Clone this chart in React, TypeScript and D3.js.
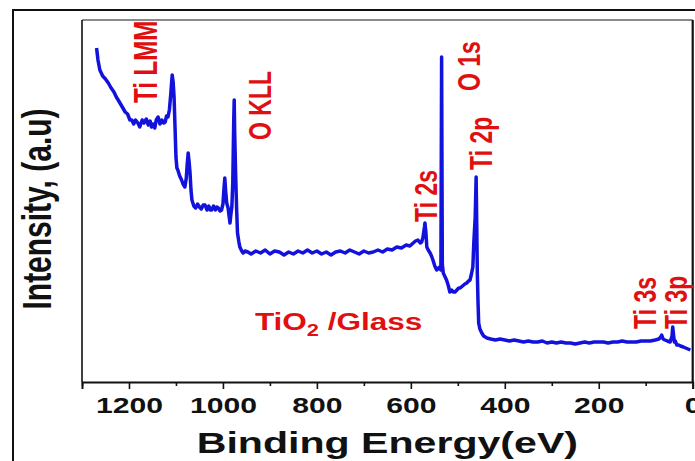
import React, { useEffect, useRef } from "react";
import * as d3 from "d3";

// XPS survey spectrum of TiO2 on glass
const energy = [
  1269, 1266, 1262, 1256, 1250, 1244, 1238, 1232, 1227, 1223, 1218, 1213, 1208, 1203, 1198, 1194,
  1190, 1186, 1181, 1177, 1172, 1168, 1163, 1159, 1155, 1152, 1148, 1145, 1142, 1138, 1134, 1130,
  1126, 1123, 1120, 1117, 1114, 1111, 1108, 1106, 1104, 1102, 1100, 1098, 1096, 1092, 1088, 1085,
  1081, 1078, 1076, 1074, 1072, 1070, 1068, 1066, 1062, 1058, 1054, 1050, 1046, 1042, 1038, 1034,
  1030, 1027, 1024, 1020, 1016, 1013, 1010, 1006, 1003, 1000, 998, 996, 994, 992, 989, 985, 983,
  981, 979, 977, 976, 975, 973, 971, 969, 966, 964, 960, 957, 953, 947, 940, 930, 920, 910, 900,
  890, 880, 870, 860, 850, 840, 830, 820, 810, 800, 790, 780, 770, 760, 750, 740, 730, 720, 710,
  700, 690, 680, 670, 660, 650, 640, 630, 620, 610, 602, 595, 590, 585, 580, 577, 574, 571, 570,
  568, 566, 563, 559, 556, 553, 549, 545, 541, 538, 536, 534.5, 533, 531, 528, 524, 520, 517, 513,
  510, 506, 502, 498, 495, 490, 485, 481, 477, 474, 471, 468, 466, 463, 461, 459.5, 458.5, 457,
  455.6, 453, 449, 445, 438, 430, 420, 410, 400, 390, 380, 370, 360, 350, 340, 330, 320, 310, 300,
  290, 280, 270, 260, 250, 240, 230, 220, 210, 200, 190, 180, 170, 160, 150, 140, 130, 120, 110,
  100, 90, 80, 72, 68, 66, 63, 59, 54, 48, 44, 42.5, 41, 39, 37, 34, 30, 26, 20, 15, 10, 5,
];
const intensity = [
  334, 322, 312, 306, 303, 299, 294, 290, 285, 282, 278, 274, 270, 268, 262, 262,
  258, 262, 259, 255, 262, 259, 263, 257, 261, 255, 258, 254, 262, 265, 258, 262,
  259, 260, 266, 265, 272, 288, 307, 300, 285, 255, 225, 214, 212, 206, 202, 198,
  195, 204, 218, 229, 220, 209, 192, 182, 176, 174, 178, 175, 173, 177, 177, 172,
  176, 172, 172, 176, 172, 175, 174, 171, 172, 178, 192, 204, 190, 179, 174, 159, 168,
  175, 200, 262, 282, 250, 209, 175, 149, 140, 135, 131, 129, 131, 130, 128, 131, 129, 132, 128,
  131, 130, 127, 130, 128, 131, 129, 132, 129, 131, 128, 130, 127, 130, 131, 129, 132, 130, 128,
  131, 129, 130, 132, 130, 133, 132, 135, 134, 137, 136, 139, 141, 142, 139, 140, 145, 155, 159,
  150, 135, 132, 129, 126, 122, 116, 112, 114, 115, 112, 325, 118, 109, 106, 102, 96, 90, 92,
  90, 90, 92, 94, 94, 96, 98, 99, 101, 102, 108, 115, 139, 165, 205, 150, 109, 80,
  59, 53, 49, 46, 44, 43, 42, 43, 42, 41, 42, 41, 40, 41, 40, 40, 41, 39, 40,
  39, 40, 39, 39, 38, 39, 40, 39, 40, 40, 40, 39, 40, 40, 41, 40, 40, 40, 41,
  41, 41, 42, 43, 45, 47, 43, 42, 41, 40, 46, 55, 48, 40, 41, 37, 37, 36, 35, 34, 33, 32,
];

const majorTicks = [1200, 1000, 800, 600, 400, 200, 0];
const minorTicks = [1300, 1100, 900, 700, 500, 300, 100];

// peak annotations: text, energy at the label baseline, intensity where the text starts
const peakNames = ["Ti LMM", "O KLL", "Ti 2s", "O 1s", "Ti 2p", "Ti 3s", "Ti 3p"];
const peakLabelEnergy = [1140, 898, 544, 453, 427, 78, 12];
const peakLabelLevel = [279, 242, 160, 291, 212, 53, 53];

const FONT = "'Liberation Sans', Arial, Helvetica, sans-serif";
const SX = 1.37; // the figure is stretched horizontally

const App: React.FC = () => {
  const ref = useRef<SVGSVGElement>(null);

  useEffect(() => {
    if (!ref.current) return;
    const width = 695;
    const height = 461;
    const margin = { top: 20, right: 2.3, bottom: 79, left: 82 };

    const svg = d3.select(ref.current);
    svg.selectAll("*").remove();

    svg.append("rect").attr("width", width).attr("height", height).attr("fill", "#fff");

    // outer frame
    svg
      .append("path")
      .attr("d", `M13,${height} V10 H${width}`)
      .attr("fill", "none")
      .attr("stroke", "#111")
      .attr("stroke-width", 2);

    const x = d3
      .scaleLinear()
      .domain([1300, 0])
      .range([margin.left, width - margin.right]);
    const y = d3
      .scaleLinear()
      .domain([0, 362])
      .range([height - margin.bottom, margin.top]);

    const x0 = x(1300);
    const x1 = x(0);
    const yb = y(0);
    const yt = y(362);

    // plot frame
    svg.append("line").attr("x1", x0).attr("x2", x1).attr("y1", yt).attr("y2", yt)
      .attr("stroke", "#8a8a8a").attr("stroke-width", 2);
    svg.append("line").attr("x1", x0).attr("x2", x0).attr("y1", yt).attr("y2", yb)
      .attr("stroke", "#111").attr("stroke-width", 1.6);
    svg.append("line").attr("x1", x1).attr("x2", x1).attr("y1", yt).attr("y2", yb)
      .attr("stroke", "#111").attr("stroke-width", 2.2);

    // x axis
    const major = svg
      .append("g")
      .attr("transform", `translate(0,${yb})`)
      .call(d3.axisBottom(x).tickValues(majorTicks).tickSize(7).tickFormat(d3.format("d")));
    major.select(".domain").attr("stroke", "#111").attr("stroke-width", 2);
    major.selectAll(".tick line").attr("stroke", "#111").attr("stroke-width", 1.6);
    major
      .selectAll(".tick text")
      .attr("y", 31)
      .attr("dy", 0)
      .attr("transform", `scale(${SX},1)`)
      .attr("fill", "#111")
      .style("font-family", FONT)
      .style("font-size", "22px")
      .style("font-weight", "bold");

    const minor = svg
      .append("g")
      .attr("transform", `translate(0,${yb})`)
      .call(d3.axisBottom(x).tickValues(minorTicks).tickSize(4).tickFormat(() => ""));
    minor.select(".domain").remove();
    minor.selectAll(".tick line").attr("stroke", "#111").attr("stroke-width", 1.6);

    // axis titles
    svg
      .append("text")
      .attr("transform", `translate(${(x0 + x1) / 2},453) scale(${SX},1)`)
      .attr("text-anchor", "middle")
      .attr("fill", "#111")
      .style("font-family", FONT)
      .style("font-size", "30px")
      .style("font-weight", "bold")
      .text("Binding Energy(eV)");

    svg
      .append("text")
      .attr("transform", `translate(51,${(yt + yb) / 2 + 8}) scale(${SX},1) rotate(-90)`)
      .attr("text-anchor", "middle")
      .attr("fill", "#111")
      .style("font-family", FONT)
      .style("font-size", "30px")
      .style("font-weight", "bold")
      .text("Intensity, (a.u)");

    // spectrum
    const pts = energy.map((e, i) => ({ e, v: intensity[i] }));
    const line = d3
      .line<{ e: number; v: number }>()
      .x((d) => x(d.e))
      .y((d) => y(d.v));
    svg
      .append("path")
      .datum(pts)
      .attr("fill", "none")
      .attr("stroke", "#1212dc")
      .attr("stroke-width", 3.5)
      .attr("stroke-linejoin", "round")
      .attr("d", line);

    // peak labels
    peakNames.forEach((name, i) => {
      svg
        .append("text")
        .attr(
          "transform",
          `translate(${x(peakLabelEnergy[i])},${y(peakLabelLevel[i])}) scale(${SX},1) rotate(-90)`
        )
        .attr("fill", "#e01010")
        .style("font-family", FONT)
        .style("font-size", i === 0 ? "24px" : "23px")
        .style("font-weight", "bold")
        .text(name);
    });

    // sample label
    const sample = svg
      .append("text")
      .attr("transform", `translate(${x(932)},${y(52)}) scale(${SX},1)`)
      .attr("fill", "#e01010")
      .style("font-family", FONT)
      .style("font-size", "23px")
      .style("font-weight", "bold");
    sample.append("tspan").text("TiO");
    sample.append("tspan").attr("dy", 6).style("font-size", "16px").text("2");
    sample.append("tspan").attr("dy", -6).text(" /Glass");
  }, []);

  return (
    <svg
      ref={ref}
      width={695}
      height={461}
      style={{ position: "absolute", left: 0, top: 0, display: "block" }}
    />
  );
};

export default App;
